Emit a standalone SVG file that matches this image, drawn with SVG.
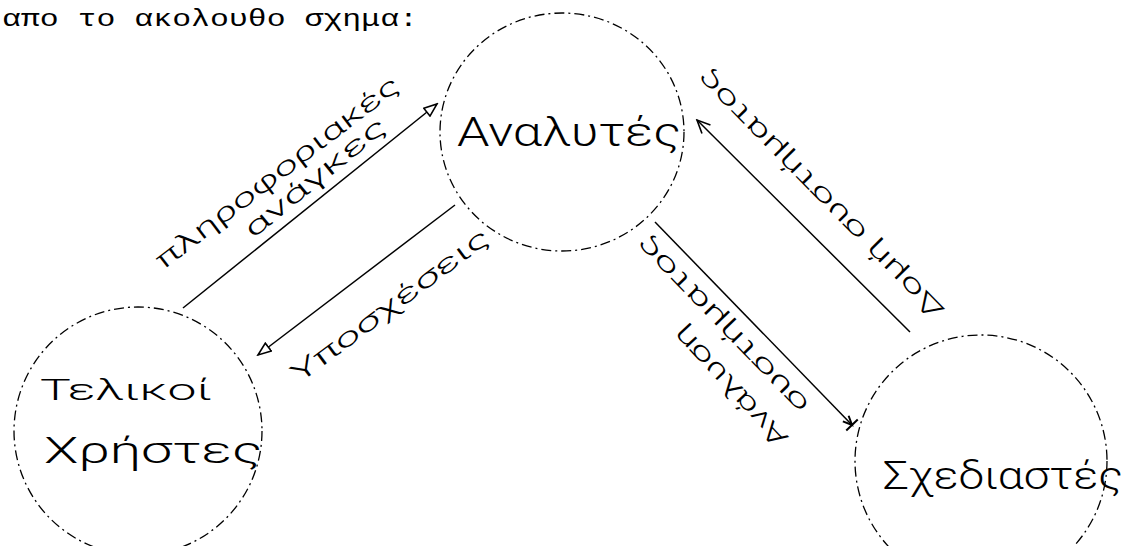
<svg xmlns="http://www.w3.org/2000/svg" width="1124" height="546" viewBox="0 0 1124 546">
<defs>
<style>
.node{fill:none;stroke:#000;stroke-width:1.3;stroke-dasharray:10 4 2 4}
.edge{fill:none;stroke:#000;stroke-width:1.5}
.hand{font-family:Roboto,"Open Sans","DejaVu Sans",sans-serif;font-weight:300;fill:#000}
.lbl{font-size:26px}
.top{font-family:"Liberation Mono","DejaVu Sans Mono",monospace;font-size:24px;fill:#000}
</style>
<marker id="tri" viewBox="-1 -1 16 12" refX="13" refY="5" markerWidth="16" markerHeight="12" markerUnits="userSpaceOnUse" orient="auto">
<path d="M0,0 L13,5 L0,10 Z" fill="#fff" stroke="#000" stroke-width="1.6"/>
</marker>
<marker id="vee" viewBox="-1 -8 16 16" refX="13" refY="0" markerWidth="16" markerHeight="16" markerUnits="userSpaceOnUse" orient="auto">
<path d="M0,-6 L13,0 L0,6" fill="none" stroke="#000" stroke-width="1.6"/>
</marker>
<marker id="tee" viewBox="-12 -10 16 20" refX="0" refY="0" markerWidth="16" markerHeight="20" markerUnits="userSpaceOnUse" orient="auto">
<path d="M0,-8 L0,8 M-9,-4 L0,0 L-9,4" fill="none" stroke="#000" stroke-width="2"/>
</marker>
</defs>
<rect width="1124" height="546" fill="#fff"/>
<text class="top" x="2" y="26" textLength="416" lengthAdjust="spacingAndGlyphs">απο το ακολουθο σχημα:</text>

<g id="node-analysts">
<ellipse class="node" cx="562" cy="132" rx="122" ry="119"/>
<text class="hand" x="457" y="146" font-size="40" textLength="224" lengthAdjust="spacingAndGlyphs">Αναλυτές</text>
</g>
<g id="node-users">
<circle class="node" cx="138" cy="431" r="124"/>
<text class="hand" x="40" y="400" font-size="30" textLength="172" lengthAdjust="spacingAndGlyphs">Τελικοί</text>
<text class="hand" x="44" y="463" font-size="36" textLength="218" lengthAdjust="spacingAndGlyphs">Χρήστες</text>
</g>
<g id="node-designers">
<circle class="node" cx="981" cy="461" r="126"/>
<text class="hand" x="883" y="489" font-size="38" textLength="240" lengthAdjust="spacingAndGlyphs">Σχεδιαστές</text>
</g>

<g id="connectors">
<line class="edge" x1="183" y1="308" x2="437" y2="104" marker-end="url(#tri)"/>
<line class="edge" x1="455" y1="205" x2="258" y2="355" marker-end="url(#tri)"/>
<line class="edge" x1="655" y1="222" x2="852" y2="425" marker-end="url(#tee)"/>
<line class="edge" x1="910" y1="332" x2="697" y2="120" marker-end="url(#vee)"/>
<text class="hand lbl" transform="translate(277,172) rotate(-37.3)" text-anchor="middle" dy="0.35em" textLength="300" lengthAdjust="spacingAndGlyphs">πληροφοριακές</text>
<text class="hand lbl" transform="translate(315,177) rotate(-39)" text-anchor="middle" dy="0.35em" textLength="175" lengthAdjust="spacingAndGlyphs">ανάγκες</text>
<text class="hand lbl" transform="translate(390,305) rotate(-36.6)" text-anchor="middle" dy="0.35em" textLength="240" lengthAdjust="spacingAndGlyphs">Υποσχέσεις</text>
<text class="hand lbl" transform="translate(722,325) rotate(226)" text-anchor="middle" dy="0.35em" textLength="236" lengthAdjust="spacingAndGlyphs">συστήματος</text>
<text class="hand lbl" transform="translate(730,387) rotate(227)" text-anchor="middle" dy="0.35em" textLength="155" lengthAdjust="spacingAndGlyphs">Ανάλυση</text>
<text class="hand lbl" transform="translate(820,195) rotate(225.5)" text-anchor="middle" dy="0.35em" textLength="340" lengthAdjust="spacingAndGlyphs">Δομή συστήματος</text>
</g>
</svg>
